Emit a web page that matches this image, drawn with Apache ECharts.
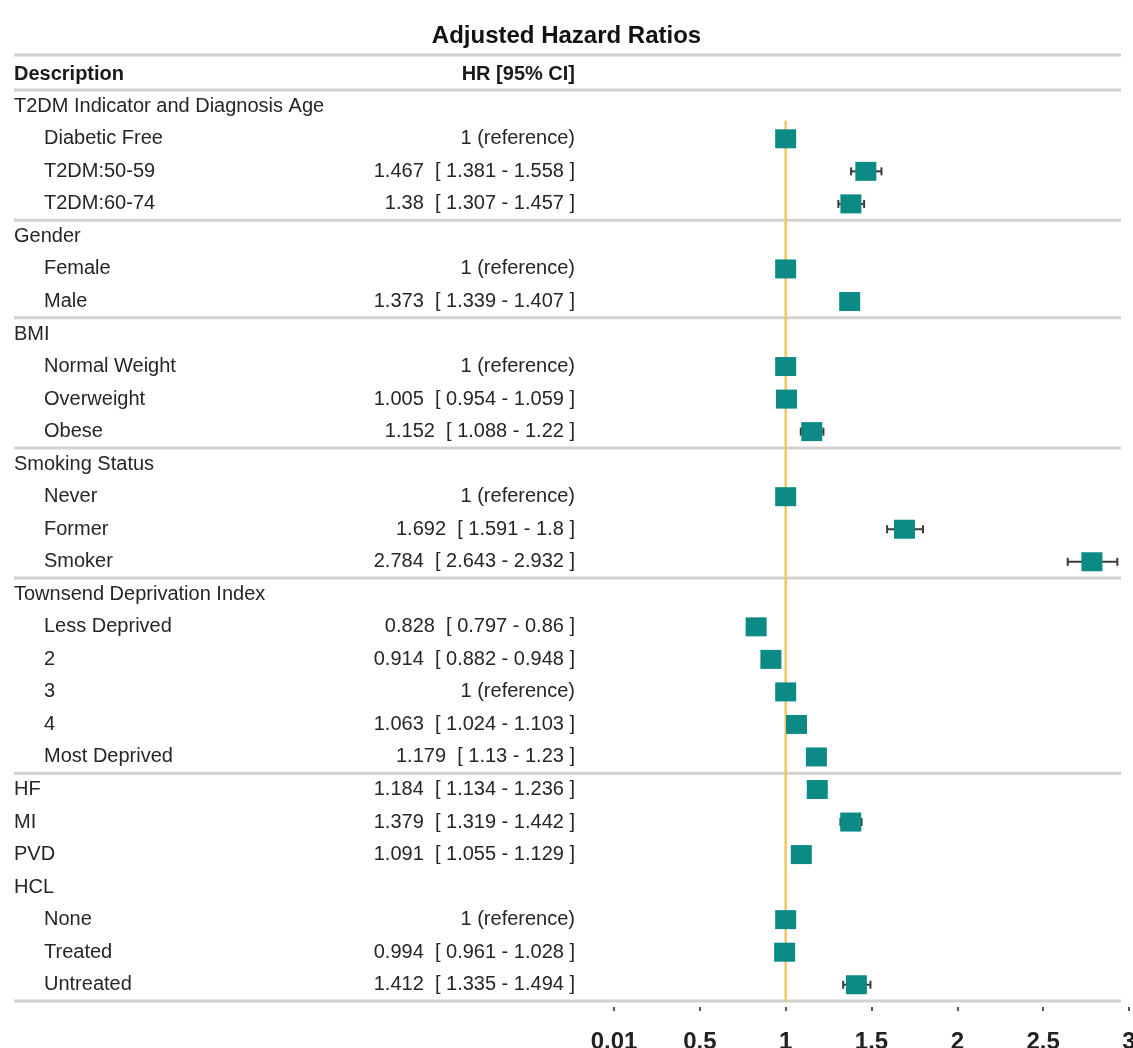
<!DOCTYPE html>
<html><head><meta charset="utf-8">
<script src="https://cdn.jsdelivr.net/npm/echarts@6/dist/echarts.min.js"></script>
<style>html,body{margin:0;padding:0;background:#fff}#c{width:1133px;height:1048px}</style>
</head><body><div id="c"></div>
<script>
const descriptions = [
  'T2DM Indicator and Diagnosis Age', 'Diabetic Free', 'T2DM:50-59', 'T2DM:60-74',
  'Gender', 'Female', 'Male',
  'BMI', 'Normal Weight', 'Overweight', 'Obese',
  'Smoking Status', 'Never', 'Former', 'Smoker',
  'Townsend Deprivation Index', 'Less Deprived', '2', '3', '4', 'Most Deprived',
  'HF', 'MI', 'PVD',
  'HCL', 'None', 'Treated', 'Untreated'
];
const levels = [0,1,1,1, 0,1,1, 0,1,1,1, 0,1,1,1, 0,1,1,1,1,1, 0,0,0, 0,1,1,1];
const hr     = [null,1,1.467,1.38, null,1,1.373, null,1,1.005,1.152, null,1,1.692,2.784, null,0.828,0.914,1,1.063,1.179, 1.184,1.379,1.091, null,1,0.994,1.412];
const ciLow  = [null,null,1.381,1.307, null,null,1.339, null,null,0.954,1.088, null,null,1.591,2.643, null,0.797,0.882,null,1.024,1.13, 1.134,1.319,1.055, null,null,0.961,1.335];
const ciHigh = [null,null,1.558,1.457, null,null,1.407, null,null,1.059,1.22, null,null,1.8,2.932, null,0.86,0.948,null,1.103,1.23, 1.236,1.442,1.129, null,null,1.028,1.494];
const groupBreaks = [0, 4, 7, 11, 15, 21, 28];
const xTickLabels = ['0.01', '0.5', '1', '1.5', '2', '2.5', '3'];
const titleText = 'Adjusted Hazard Ratios';
const headers = ['Description', 'HR [95% CI]'];

const hrText = hr.map((v, i) => v == null ? '' :
  (ciLow[i] == null ? v + ' (reference)' : v + '  [ ' + ciLow[i] + ' - ' + ciHigh[i] + ' ]'));

const FONT = "'Liberation Sans', Arial, sans-serif";
const TXT = '#262626';
const LINE = '#d2d2d2';

const chart = echarts.init(document.getElementById('c'));
chart.setOption({
  animation: false,
  title: { text: titleText, left: 'center', top: 19,
    textStyle: { fontFamily: FONT, fontSize: 24, fontWeight: 'bold', color: '#111' } },
  graphic: [
    { type: 'line', shape: { x1: 14, y1: 55, x2: 1121, y2: 55 }, style: { stroke: LINE, lineWidth: 3 } },
    { type: 'text', left: 14, top: 64, style: { text: headers[0], font: "bold 20px 'Liberation Sans'", fill: '#1a1a1a' } },
    { type: 'text', right: 1133 - 575, top: 64, style: { text: headers[1], font: "bold 20px 'Liberation Sans'", fill: '#1a1a1a', textAlign: 'right' } }
  ],
  grid: { left: 614, right: 4, top: 90, bottom: 47, containLabel: false, outerBoundsMode: 'none' },
  xAxis: {
    type: 'value', min: 0, max: 3, interval: 0.5, offset: 6,
    splitLine: { show: false }, axisLine: { show: false },
    axisTick: { show: true, length: 4, lineStyle: { color: '#555', width: 2 } },
    axisLabel: { margin: 23, fontSize: 24, fontWeight: 'bold', color: '#222',
      fontFamily: FONT,
      formatter: v => xTickLabels[Math.round(v / 0.5)] }
  },
  yAxis: [
    { type: 'category', data: descriptions, inverse: true, position: 'left',
      axisLine: { show: false }, axisTick: { show: false }, splitLine: { show: false },
      axisLabel: { interval: 0, align: 'left', margin: 600,
        formatter: (v, i) => (levels[i] ? '{i|' + v + '}' : '{g|' + v + '}'),
        rich: {
          g: { fontFamily: FONT, fontSize: 20, color: TXT },
          i: { fontFamily: FONT, fontSize: 20, color: TXT, padding: [0, 0, 0, 30] }
        } } },
    { type: 'category', data: descriptions, inverse: true, position: 'left',
      axisLine: { show: false }, axisTick: { show: false }, splitLine: { show: false },
      axisLabel: { interval: 0, align: 'right', margin: 39, fontFamily: FONT, fontSize: 20, color: TXT,
        formatter: (v, i) => hrText[i] } }
  ],
  series: [
    { type: 'custom', name: 'separators', z: 1, clip: false,
      data: groupBreaks.map(k => [0, 0, k]), encode: { x: 0, y: 1 },
      renderItem: (params, api) => {
        const y0 = api.coord([0, 0])[1];
        const band = api.size([0, 1])[1];
        const y = y0 - band / 2 + api.value(2) * band;
        return { type: 'line', shape: { x1: 14, y1: y, x2: 1121, y2: y }, style: { stroke: LINE, lineWidth: 3 } };
      } },
    { type: 'custom', name: 'reference', z: 2, clip: false,
      data: [[1, 1]], encode: { x: 0, y: 1 },
      renderItem: (params, api) => {
        const p = api.coord([api.value(0), api.value(1)]);
        const bottom = params.coordSys.y + params.coordSys.height;
        return { type: 'line', shape: { x1: p[0], y1: p[1] - 18, x2: p[0], y2: bottom }, style: { stroke: '#f2c85e', lineWidth: 2.5 } };
      } },
    { type: 'custom', name: 'ci', z: 3,
      data: hr.map((v, i) => [i, ciLow[i], ciHigh[i]]).filter(d => d[1] != null),
      encode: { y: 0, x: [1, 2] },
      renderItem: (params, api) => {
        const a = api.coord([api.value(1), api.value(0)]);
        const b = api.coord([api.value(2), api.value(0)]);
        const st = { stroke: '#3a3a3a', lineWidth: 2 };
        return { type: 'group', children: [
          { type: 'line', shape: { x1: a[0], y1: a[1], x2: b[0], y2: b[1] }, style: st },
          { type: 'line', shape: { x1: a[0], y1: a[1] - 4, x2: a[0], y2: a[1] + 4 }, style: st },
          { type: 'line', shape: { x1: b[0], y1: b[1] - 4, x2: b[0], y2: b[1] + 4 }, style: st }
        ] };
      } },
    { type: 'scatter', name: 'HR', z: 4, symbol: 'rect', symbolSize: [21, 19],
      itemStyle: { color: '#0b8a86', opacity: 1, borderRadius: 2 },
      data: hr.map((v, i) => [v, i]).filter(d => d[0] != null) }
  ]
});
</script></body></html>
